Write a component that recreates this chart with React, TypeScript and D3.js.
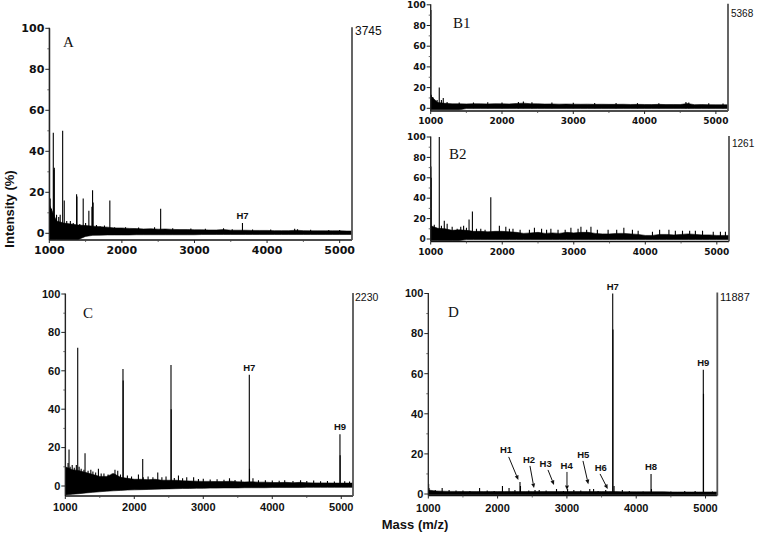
import React from 'react';
import * as d3 from 'd3';

// ---------- data ----------
const GRID = [1000, 1100, 1200, 1300, 1400, 1500, 1600, 1700, 1800, 1900, 2000, 2100, 2200, 2300, 2400, 2500, 2600, 2700, 2800, 2900, 3000, 3100, 3200, 3300, 3400, 3500, 3600, 3700, 3800, 3900, 4000, 4100, 4200, 4300, 4400, 4500, 4600, 4700, 4800, 4900, 5000, 5100, 5200];

const X_TICKS = [1000, 2000, 3000, 4000, 5000];
const X_MINOR = [1500, 2500, 3500, 4500];
const Y_TICKS = [0, 20, 40, 60, 80, 100];
const Y_MINOR = [10, 30, 50, 70, 90];

// Panel A
const A_HI = [14, 6, 5, 4.5, 4, 3.8, 3.5, 3.2, 3, 2.6, 2.6, 2.4, 2.3, 2.1, 2.2, 2.0, 2.1, 1.9, 1.8, 1.8, 1.7, 1.7, 1.6, 1.6, 1.8, 1.5, 1.5, 1.5, 1.4, 1.4, 1.4, 1.3, 1.3, 1.3, 1.5, 1.3, 1.2, 1.2, 1.2, 1.2, 1.2, 1.1, 1.1];
const A_LO = [-3, -3, -3, -3, -3, -1.5, -1, -0.9, -0.8, -0.8, -0.8, -0.8, -0.7, -0.7, -0.7, -0.7, -0.7, -0.7, -0.7, -0.7, -0.7, -0.6, -0.6, -0.6, -0.6, -0.6, -0.6, -0.6, -0.6, -0.6, -0.6, -0.6, -0.6, -0.6, -0.6, -0.6, -0.6, -0.6, -0.6, -0.6, -0.6, -0.6, -0.6];
const A_SPIKES = [[1030, 12], [1100, 9], [1130, 8], [1150, 9], [1240, 6], [1290, 6], [1330, 5], [1420, 4.5], [1500, 5], [1650, 4], [1700, 3.5], [1760, 3.8], [1900, 3], [2050, 3], [2230, 2.8], [2450, 3], [2700, 2.5], [2950, 2.3], [3150, 2.2], [3400, 2.5], [3520, 2.0], [3800, 1.9], [4050, 1.8], [4380, 2.2], [4420, 2.0], [4600, 1.7], [4850, 1.6], [5000, 1.6]];
const A_PEAKS = [[1005, 100], [1012, 17], [1055, 49], [1062, 31], [1069, 32], [1184, 50], [1206, 16], [1376, 19], [1381, 18], [1467, 17], [1545, 11], [1587, 13], [1596, 21], [1604, 15], [1834, 16], [2534, 12], [3661, 5]];
const A_LABELS = [['H7', 3661, 5]];

// Panel B1
const B1_HI = [12, 5.5, 4.8, 4.3, 4.3, 4.2, 4.4, 4.3, 4.2, 4.4, 4.3, 4.2, 4.6, 5.0, 4.4, 4.3, 4.1, 4.2, 4.0, 4.1, 4.0, 3.9, 4.0, 3.8, 3.9, 3.8, 3.8, 3.9, 3.7, 3.8, 3.7, 3.6, 3.8, 3.6, 3.7, 3.6, 4.6, 3.5, 3.6, 3.5, 3.4, 3.4, 3.4];
const B1_LO = [-1.5, -1.5, -1.5, -1.5, -1.5, -0.3, -0.3, -0.3, -0.3, -0.3, -0.3, -0.3, -0.3, -0.3, -0.3, -0.3, -0.3, -0.3, -0.3, -0.3, -0.3, -0.3, -0.3, -0.3, -0.3, -0.3, -0.3, -0.3, -0.3, -0.3, -0.3, -0.3, -0.3, -0.3, -0.3, -0.3, -0.3, -0.3, -0.3, -0.3, -0.3, -0.3, -0.3];
const B1_SPIKES = [[1060, 7], [1090, 8], [1150, 8], [1230, 6], [1400, 5.5], [1600, 5.5], [1800, 5.8], [2000, 5.5], [2230, 6], [2300, 6.5], [2420, 5.8], [2700, 5.5], [3000, 5.3], [3300, 5.2], [3600, 5.2], [3900, 5], [4200, 5], [4580, 6], [4620, 5.6], [4900, 4.8], [5100, 4.6]];
const B1_PEAKS = [[1003, 95], [1008, 13], [1030, 11], [1120, 20], [1176, 10]];

// Panel B2
const B2_HI = [13, 10.5, 10, 8.5, 9, 8.5, 7.5, 7.5, 7, 7.5, 7.5, 7, 6.5, 5.5, 6, 6.5, 5.5, 6, 5.5, 6.5, 6, 6.5, 6.5, 5.5, 5, 5, 5.5, 5.5, 5, 4.5, 3.5, 3.5, 4.5, 4.5, 4, 4.5, 5, 4.5, 4, 4, 3.5, 3.5, 3.5];
const B2_LO = [-1.5, -1.5, -1.5, -1.5, -1.5, -0.5, -0.5, -0.5, -0.5, -0.5, -0.5, -0.5, -0.5, -0.5, -0.5, -0.5, -0.5, -0.5, -0.5, -0.5, -0.5, -0.5, -0.5, -0.5, -0.5, -0.5, -0.5, -0.5, -0.5, -0.5, -0.5, -0.5, -0.5, -0.5, -0.5, -0.5, -0.5, -0.5, -0.5, -0.5, -0.5, -0.5, -0.5];
const B2_SPIKES = [[1050, 14], [1150, 13], [1190, 18], [1230, 15], [1300, 12], [1370, 10], [1420, 12], [1460, 13], [1500, 11], [1640, 10], [1700, 10], [1760, 9], [1960, 13], [2050, 12], [2100, 10], [2150, 10], [2250, 9], [2380, 9], [2450, 11], [2550, 10], [2620, 9], [2680, 10], [2780, 9], [2880, 9], [2960, 11], [3060, 10], [3100, 12], [3180, 9], [3240, 12], [3330, 9], [3480, 9], [3600, 9], [3700, 11], [3820, 9], [3900, 8], [4100, 7], [4200, 9], [4330, 9], [4420, 8], [4520, 8], [4620, 8], [4700, 8], [4800, 8], [4950, 7], [5050, 7], [5120, 7]];
const B2_PEAKS = [[1003, 71], [1007, 60], [1120, 100], [1536, 19], [1583, 27], [1840, 41]];

// Panel C
const C_HI = [10, 8.5, 8, 7, 6, 5, 5, 6.5, 4.5, 4, 3.5, 3.5, 3.3, 3.5, 3, 3, 3, 2.7, 2.6, 2.5, 2.4, 2.4, 2.3, 2.3, 2.5, 2.2, 2.1, 2.2, 2, 2, 1.8, 1.8, 1.9, 1.7, 1.9, 1.7, 1.6, 1.6, 1.6, 1.5, 1.5, 1.5, 1.5];
const C_LO = [-4.7, -4.3, -4, -3.6, -3.3, -3, -2.7, -2.5, -2.3, -2.1, -2, -1.9, -1.8, -1.7, -1.6, -1.5, -1.4, -1.3, -1.3, -1.2, -1.2, -1.1, -1.1, -1, -1, -1, -0.9, -0.9, -0.9, -0.9, -0.8, -0.8, -0.8, -0.8, -0.8, -0.7, -0.7, -0.7, -0.7, -0.7, -0.7, -0.7, -0.7];
const C_SPIKES = [[1040, 12], [1070, 10], [1100, 11], [1130, 9.5], [1160, 11], [1200, 10], [1230, 9], [1270, 8.5], [1330, 8], [1370, 8.5], [1400, 7.5], [1440, 7], [1480, 9], [1520, 6.5], [1560, 6.5], [1620, 6], [1680, 6.5], [1720, 8.5], [1760, 8], [1800, 6], [1900, 5.5], [1960, 5], [2060, 6], [2130, 4.5], [2200, 5], [2270, 4.5], [2340, 7], [2400, 4.5], [2460, 5], [2580, 4.2], [2640, 5.5], [2700, 4], [2760, 4.5], [2860, 4.5], [2930, 3.6], [3000, 3.8], [3100, 3.4], [3200, 3.5], [3300, 3.3], [3380, 4], [3460, 3.1], [3550, 3.2], [3720, 4], [3800, 3], [3900, 3], [4000, 2.8], [4100, 2.7], [4180, 3], [4300, 2.6], [4410, 3], [4500, 2.6], [4600, 2.8], [4700, 2.5], [4800, 2.6], [4900, 2.4], [5050, 2.5], [5120, 2.4]];
const C_PEAKS = [[1003, 100], [1054, 19], [1180, 72], [1286, 17], [1836, 61], [1839, 55], [2122, 14], [2532, 63], [2535, 40], [3667, 58], [3670, 9], [4981, 27], [4984, 16]];
const C_LABELS = [['H7', 3667, 58], ['H9', 4981, 27]];

// Panel D
const D_HI = [2, 1.5, 1.4, 1.3, 1.3, 1.2, 1.2, 1.2, 1.2, 1.2, 1.2, 1.2, 1.2, 1.2, 1.2, 1.2, 1.2, 1.2, 1.2, 1.2, 1.2, 1.2, 1.2, 1.2, 1.2, 1.2, 1.2, 1.2, 1.1, 1.1, 1.1, 1.1, 1.1, 1.1, 1.1, 1.0, 1.0, 1.0, 1.0, 1.0, 1.0, 1.0, 1.0];
const D_LO = [-0.4, -0.4, -0.4, -0.4, -0.4, -0.4, -0.4, -0.4, -0.4, -0.4, -0.4, -0.4, -0.4, -0.4, -0.4, -0.4, -0.4, -0.4, -0.4, -0.4, -0.4, -0.4, -0.4, -0.4, -0.4, -0.4, -0.4, -0.4, -0.4, -0.4, -0.4, -0.4, -0.4, -0.4, -0.4, -0.4, -0.4, -0.4, -0.4, -0.4, -0.4, -0.4, -0.4];
const D_SPIKES = [[1010, 3], [1100, 2], [1300, 2], [1400, 1.8], [1500, 1.8], [1600, 1.5], [1850, 1.8], [1950, 1.5], [2250, 2], [2450, 1.8], [2600, 2], [2700, 1.8], [2950, 1.5], [3200, 1.8], [3450, 1.5], [3800, 2], [3900, 1.5], [4100, 1.3], [4500, 1.3], [4700, 1.5], [4850, 1.5], [5100, 1.3]];
const D_PEAKS = [[1005, 5], [1200, 3], [1740, 3], [2070, 4], [2165, 3], [2323, 6], [2330, 4], [2540, 2], [2850, 2.5], [3010, 2.5], [3100, 2], [3330, 2.5], [3385, 2.5], [3560, 2], [3661, 100], [3664, 82], [3680, 4], [4214, 10], [4220, 2.5], [4968, 62], [4971, 50]];
const D_LABELS = [['H7', 3661, 100], ['H8', 4214, 10], ['H9', 4968, 62]];
// name, tip mass, tip value, tail mass, tail value, text mass, text value
const D_ARROWS = [
  ['H1', 2299, 7, 2160, 18.5, 2121, 22],
  ['H2', 2525, 3, 2467, 14, 2453, 17],
  ['H3', 2814, 4.5, 2727, 12, 2694, 14.9],
  ['H4', 3001, 2, 3001, 11, 2997, 14],
  ['H5', 3309, 4.9, 3232, 16.5, 3237, 19.5],
  ['H6', 3589, 2.5, 3478, 10, 3488, 13],
];

const XEND = 5170;

// ---------- layout ----------
const PANELS = [
  { id: 'A', left: 49.3, right: 352, y0: 233.3, y100: 28.3, bottom: 240, hi: A_HI, lo: A_LO, spikes: A_SPIKES, peaks: A_PEAKS, labels: A_LABELS, arrows: [],
    font: 'DejaVu Sans', fs: 11, xlab: 13.5, count: '3745', cx: 355, cy: 35, cfs: 12, letter: 'A', lx: 63, ly: 47 },
  { id: 'B1', left: 430.7, right: 728, y0: 108.3, y100: 4.8, bottom: 111, hi: B1_HI, lo: B1_LO, spikes: B1_SPIKES, peaks: B1_PEAKS, labels: [], arrows: [],
    font: 'DejaVu Sans', fs: 9, xlab: 12.5, count: '5368', cx: 731, cy: 17, cfs: 10, letter: 'B1', lx: 453, ly: 28 },
  { id: 'B2', left: 430.7, right: 729, y0: 239, y100: 137, bottom: 241.5, hi: B2_HI, lo: B2_LO, spikes: B2_SPIKES, peaks: B2_PEAKS, labels: [], arrows: [],
    font: 'DejaVu Sans', fs: 9, xlab: 13.5, count: '1261', cx: 732, cy: 147, cfs: 10, letter: 'B2', lx: 449, ly: 159 },
  { id: 'C', left: 65.3, right: 353, y0: 486, y100: 294, bottom: 496, hi: C_HI, lo: C_LO, spikes: C_SPIKES, peaks: C_PEAKS, labels: C_LABELS, arrows: [],
    font: 'Liberation Sans', fs: 11, xlab: 15, count: '2230', cx: 355, cy: 300.5, cfs: 10.5, letter: 'C', lx: 83, ly: 318 },
  { id: 'D', left: 428.3, right: 717.3, y0: 494, y100: 293.5, bottom: 495.5, hi: D_HI, lo: D_LO, spikes: D_SPIKES, peaks: D_PEAKS, labels: D_LABELS, arrows: D_ARROWS,
    font: 'Liberation Sans', fs: 11, xlab: 16, count: '11887', cx: 720, cy: 300.5, cfs: 11, letter: 'D', lx: 448, ly: 317 },
];

function Panel({ p }: { p: any }) {
  const x = d3.scaleLinear().domain([1000, XEND]).range([p.left, p.right]);
  const y = d3.scaleLinear().domain([0, 100]).range([p.y0, p.y100]);
  const band = d3.area<number>()
    .x((_, i) => x(GRID[i]))
    .y0((_, i) => y(p.lo[i]))
    .y1((d) => y(d));
  const clipId = 'clip-' + p.id;
  const sticks = [...p.spikes, ...p.peaks];
  const hFont = 'Liberation Sans';
  return (
    <g>
      <defs>
        <clipPath id={clipId}>
          <rect x={p.left} y={0} width={p.right - p.left} height={p.bottom} />
        </clipPath>
      </defs>
      <g clipPath={`url(#${clipId})`}>
        <path d={band(p.hi) || ''} fill="#000" stroke="#000" strokeWidth={0.6} />
        {sticks.map((s: number[], i: number) => (
          <line key={i} x1={x(s[0])} x2={x(s[0])} y1={y(0)} y2={y(s[1])} stroke="#000" strokeWidth={1.1} />
        ))}
      </g>
      {/* axes */}
      <line x1={p.left} x2={p.left} y1={y(100) - 0.5} y2={p.bottom} stroke="#222" strokeWidth={1.3} />
      <line x1={p.left} x2={p.right} y1={p.bottom} y2={p.bottom} stroke="#111" strokeWidth={1.3} />
      <line x1={p.right} x2={p.right} y1={y(100) - 1} y2={p.bottom} stroke="#555" strokeWidth={1.8} />
      {Y_TICKS.map((t) => (
        <g key={'y' + t}>
          <line x1={p.left - 4} x2={p.left} y1={y(t)} y2={y(t)} stroke="#222" strokeWidth={1} />
          <text x={p.left - 5} y={y(t)} dy="0.35em" textAnchor="end" fontFamily={p.font} fontWeight="bold" fontSize={p.fs} fill="#111">{t}</text>
        </g>
      ))}
      {Y_MINOR.map((t) => (
        <line key={'ym' + t} x1={p.left - 2} x2={p.left} y1={y(t)} y2={y(t)} stroke="#444" strokeWidth={0.8} />
      ))}
      {X_TICKS.map((t) => (
        <g key={'x' + t}>
          <line x1={x(t)} x2={x(t)} y1={p.bottom} y2={p.bottom + 3} stroke="#222" strokeWidth={1} />
          <text x={x(t)} y={p.bottom + p.xlab} textAnchor="middle" fontFamily={p.font} fontWeight="bold" fontSize={p.fs} fill="#111">{t}</text>
        </g>
      ))}
      {X_MINOR.map((t) => (
        <line key={'xm' + t} x1={x(t)} x2={x(t)} y1={p.bottom} y2={p.bottom + 2} stroke="#444" strokeWidth={0.8} />
      ))}
      <text x={p.cx} y={p.cy} fontFamily="Liberation Sans" fontSize={p.cfs} fill="#111">{p.count}</text>
      <text x={p.lx} y={p.ly} fontFamily="Liberation Serif" fontSize={15} fill="#111">{p.letter}</text>
      {p.labels.map((l: any[]) => (
        <text key={l[0]} x={x(l[1])} y={y(l[2]) - 4} textAnchor="middle" fontFamily={hFont} fontWeight="bold" fontSize={9.5} fill="#111">{l[0]}</text>
      ))}
      {p.arrows.map((a: any[]) => {
        const x1 = x(a[3]), y1 = y(a[4]), x2 = x(a[1]), y2 = y(a[2]);
        const ang = Math.atan2(y2 - y1, x2 - x1);
        const L = 4.5, Wd = 2;
        const bx = x2 - L * Math.cos(ang), by = y2 - L * Math.sin(ang);
        const px = -Math.sin(ang) * Wd, py = Math.cos(ang) * Wd;
        return (
          <g key={a[0]}>
            <line x1={x1} y1={y1} x2={bx} y2={by} stroke="#111" strokeWidth={1} />
            <path d={`M${x2},${y2}L${bx + px},${by + py}L${bx - px},${by - py}Z`} fill="#111" />
            <text x={x(a[5])} y={y(a[6])} dy="0.35em" textAnchor="middle" fontFamily={hFont} fontWeight="bold" fontSize={9.5} fill="#111">{a[0]}</text>
          </g>
        );
      })}
    </g>
  );
}

export default function App() {
  return (
    <svg width={759} height={533} viewBox="0 0 759 533" style={{ position: 'absolute', left: 0, top: 0, background: '#fff' }}>
      <rect width={759} height={533} fill="#fff" />
      {PANELS.map((p) => <Panel key={p.id} p={p} />)}
      <text transform="translate(14,209) rotate(-90)" textAnchor="middle" fontFamily="Liberation Sans" fontWeight="bold" fontSize={13} fill="#111">Intensity (%)</text>
      <text x={415} y={529} textAnchor="middle" fontFamily="Liberation Sans" fontWeight="bold" fontSize={13} fill="#111">Mass (m/z)</text>
    </svg>
  );
}
